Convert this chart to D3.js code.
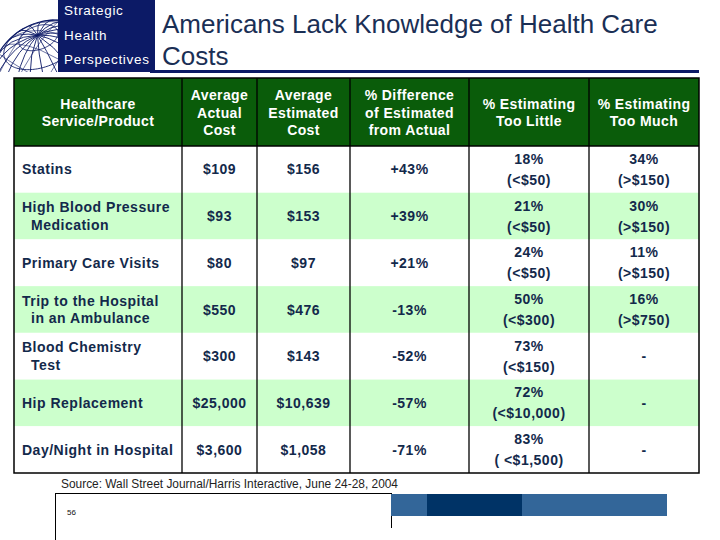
<!DOCTYPE html>
<html><head><meta charset="utf-8">
<script src="https://cdn.jsdelivr.net/npm/d3@7"></script>
<style>
html,body{margin:0;padding:0;background:#fff;}
svg{display:block;font-family:"Liberation Sans",Arial,sans-serif;}
</style></head>
<body>
<script>
// ---------- data ----------
const title = ["Americans Lack Knowledge of Health Care", "Costs"];
const logoLines = ["Strategic", "Health", "Perspectives"];
const headers = [
  ["Healthcare", "Service/Product"],
  ["Average", "Actual", "Cost"],
  ["Average", "Estimated", "Cost"],
  ["% Difference", "of Estimated", "from Actual"],
  ["% Estimating", "Too Little"],
  ["% Estimating", "Too Much"]
];
const products = [
  ["Statins"],
  ["High Blood Pressure", "  Medication"],
  ["Primary Care Visits"],
  ["Trip to the Hospital", "  in an Ambulance"],
  ["Blood Chemistry", "  Test"],
  ["Hip Replacement"],
  ["Day/Night in Hospital"]
];
const actualCost = [109, 93, 80, 550, 300, 25000, 3600];
const estimatedCost = [156, 153, 97, 476, 143, 10639, 1058];
const pctDifference = [43, 39, 21, -13, -52, -57, -71];
const pctTooLittle = [18, 21, 24, 50, 73, 72, 83];
const tooLittleThreshold = ["(<$50)", "(<$50)", "(<$50)", "(<$300)", "(<$150)", "(<$10,000)", "( <$1,500)"];
const pctTooMuch = [34, 30, 11, 16, null, null, null];
const tooMuchThreshold = ["(>$150)", "(>$150)", "(>$150)", "(>$750)", "", "", ""];
const sourceNote = "Source: Wall Street Journal/Harris Interactive, June 24-28, 2004";
const pageNumber = "56";

// ---------- setup ----------
const W = 720, H = 540;
const navy = "#0c1a66", textNavy = "#13294b", headGreen = "#0a5c0a", lightGreen = "#ccffcc";
const loc = d3.formatLocale({decimal: ".", thousands: ",", grouping: [3], currency: ["$", ""], minus: "-"});
const fmtMoney = loc.format("$,");
const fmtDiff = v => loc.format("+")(v) + "%";
const fmtPct = v => v + "%";

const svg = d3.select("body").append("svg").attr("width", W).attr("height", H);

// ---------- logo ----------
svg.append("rect").attr("x", 58).attr("y", 0).attr("width", 97).attr("height", 72).attr("fill", navy);
svg.append("clipPath").attr("id", "globeClip").append("rect").attr("x", 0).attr("y", 0).attr("width", 58).attr("height", 72);
const proj = d3.geoOrthographic().scale(66).translate([56, 86]).rotate([25, -35, 20]).clipAngle(90);
const gpath = d3.geoPath(proj);
const globe = svg.append("g").attr("clip-path", "url(#globeClip)");
globe.append("path").datum(d3.geoGraticule().step([18, 18])()).attr("d", gpath)
  .attr("fill", "none").attr("stroke", navy).attr("stroke-width", 0.9);
const proj2 = d3.geoOrthographic().scale(66).translate([56, 86]).rotate([70, 10, 60]).clipAngle(90);
globe.append("path").datum(d3.geoGraticule().step([24, 24]).extent([[-180, -70], [180, 70]])())
  .attr("d", d3.geoPath(proj2)).attr("fill", "none").attr("stroke", navy).attr("stroke-width", 0.6);
globe.append("path").datum({type: "Sphere"}).attr("d", gpath).attr("fill", "none").attr("stroke", navy).attr("stroke-width", 1.2);

svg.append("g").selectAll("text").data(logoLines).join("text")
  .attr("x", 64).attr("y", (d, i) => 15 + i * 24.5)
  .attr("fill", "#fff").attr("font-size", 13.5).style("letter-spacing", "0.7px")
  .text(d => d);

// ---------- title ----------
svg.append("g").selectAll("text").data(title).join("text")
  .attr("x", 162).attr("y", (d, i) => 33 + i * 32)
  .attr("fill", "#1a2f55").attr("font-size", 26)
  .text(d => d);
svg.append("rect").attr("x", 150).attr("y", 70).attr("width", 549).attr("height", 3).attr("fill", navy);

// ---------- table ----------
const colEdges = [14, 182, 257, 350, 469, 589, 699];
const headTop = 78, headBot = 146, tableBot = 473;
const y = d3.scaleBand().domain(d3.range(products.length)).range([headBot, tableBot]);
const colCenter = i => (colEdges[i] + colEdges[i + 1]) / 2;

// header background
svg.append("rect").attr("x", colEdges[0]).attr("y", headTop)
  .attr("width", colEdges[6] - colEdges[0]).attr("height", headBot - headTop).attr("fill", headGreen);
// row backgrounds
svg.append("g").selectAll("rect").data(products).join("rect")
  .attr("x", colEdges[0]).attr("y", (d, i) => y(i))
  .attr("width", colEdges[6] - colEdges[0]).attr("height", y.bandwidth())
  .attr("fill", (d, i) => i % 2 === 1 ? lightGreen : "#fff");

// header text
const headCenter = (headTop + headBot) / 2;
const hg = svg.append("g").attr("fill", "#fff").attr("font-weight", "bold").attr("font-size", 14)
  .attr("text-anchor", "middle").style("letter-spacing", "0.4px");
headers.forEach((lines, c) => {
  lines.forEach((ln, j) => {
    hg.append("text").attr("x", colCenter(c))
      .attr("y", headCenter + 5.5 + (j - (lines.length - 1) / 2) * 17.5)
      .text(ln);
  });
});

// body cells
const rows = products.map((p, i) => [
  p,
  [fmtMoney(actualCost[i])],
  [fmtMoney(estimatedCost[i])],
  [fmtDiff(pctDifference[i])],
  [fmtPct(pctTooLittle[i]), tooLittleThreshold[i]],
  pctTooMuch[i] == null ? ["-"] : [fmtPct(pctTooMuch[i]), tooMuchThreshold[i]]
]);
const bg = svg.append("g").attr("fill", textNavy).attr("font-weight", "bold").attr("font-size", 14)
  .style("letter-spacing", "0.5px");
rows.forEach((cells, r) => {
  const cy = y(r) + y.bandwidth() / 2;
  cells.forEach((lines, c) => {
    const sp = c === 0 ? 17.5 : 21;
    lines.forEach((ln, j) => {
      const indent = c === 0 && /^\s+/.test(ln) ? 9 : 0;
      bg.append("text")
        .attr("x", c === 0 ? 22 + indent : colCenter(c))
        .attr("text-anchor", c === 0 ? "start" : "middle")
        .attr("y", cy + 5 + (j - (lines.length - 1) / 2) * sp)
        .text(c === 0 ? ln.trim() : ln);
    });
  });
});

// grid lines
const lg = svg.append("g").attr("stroke", "#000");
colEdges.slice(1, -1).forEach(x => {
  lg.append("line").attr("x1", x).attr("x2", x).attr("y1", headTop).attr("y2", tableBot).attr("stroke-width", 1.3);
});
lg.append("line").attr("x1", colEdges[0]).attr("x2", colEdges[6]).attr("y1", headBot).attr("y2", headBot).attr("stroke-width", 1.5);
lg.append("rect").attr("x", colEdges[0]).attr("y", headTop).attr("width", colEdges[6] - colEdges[0])
  .attr("height", tableBot - headTop).attr("fill", "none").attr("stroke-width", 1.5);

// ---------- source ----------
svg.append("text").attr("x", 61).attr("y", 488).attr("fill", "#222").attr("font-size", 12)
  .attr("textLength", 337).attr("lengthAdjust", "spacingAndGlyphs").text(sourceNote);

// ---------- footer ----------
svg.append("line").attr("x1", 55).attr("x2", 391).attr("y1", 493.5).attr("y2", 493.5).attr("stroke", "#000");
svg.append("line").attr("x1", 55.5).attr("x2", 55.5).attr("y1", 493).attr("y2", 540).attr("stroke", "#000");
svg.append("line").attr("x1", 391.5).attr("x2", 391.5).attr("y1", 493).attr("y2", 528).attr("stroke", "#000");
const footBars = [[391, 427, "#336699"], [427, 522, "#003366"], [522, 667, "#336699"]];
svg.append("g").selectAll("rect").data(footBars).join("rect")
  .attr("x", d => d[0]).attr("y", 494).attr("width", d => d[1] - d[0]).attr("height", 22).attr("fill", d => d[2]);
svg.append("text").attr("x", 67).attr("y", 515).attr("font-size", 8).attr("fill", "#111").text(pageNumber);
</script>
</body></html>
